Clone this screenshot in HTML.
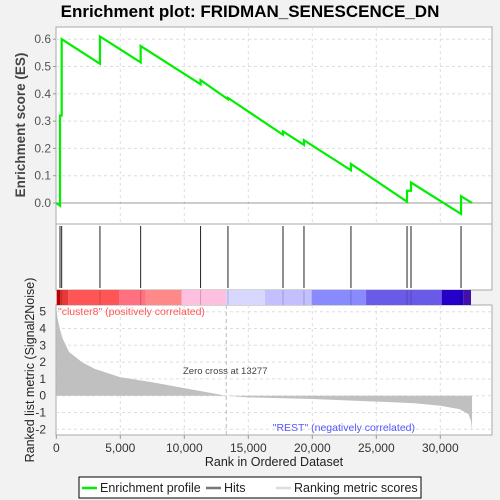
<!DOCTYPE html>
<html><head><meta charset="utf-8"><style>
body{margin:0;background:#f2f2f2;}
svg{display:block;font-family:"Liberation Sans",sans-serif;}
</style></head><body>
<svg id="c" width="500" height="500" xmlns="http://www.w3.org/2000/svg">
<rect width="500" height="500" fill="#f2f2f2"/>
<text x="250" y="17" text-anchor="middle" font-size="17" font-weight="bold">Enrichment plot: FRIDMAN_SENESCENCE_DN</text>
<g id="g"></g>
</svg>
<script>
const hitRanks=[290,420,3410,6590,11270,13410,17710,19350,23020,27400,27710,31620];
const esBefore=[-0.01,0.32,0.51,0.515,0.435,0.38,0.25,0.213,0.12,0.005,0.045,-0.04];
const esAfter=[0.32,0.60,0.61,0.575,0.45,0.385,0.262,0.23,0.143,0.045,0.075,0.025];
const esEnd=[32480,0.0];
const esTicks=[0,0.1,0.2,0.3,0.4,0.5,0.6];
const metricRanks=[0,100,300,500,1000,1500,2000,3000,4000,5000,7500,10000,13277,15000,20000,25000,28000,30000,31500,32200,32400,32480];
const metricVals=[5.2,4.6,3.9,3.4,2.6,2.3,2.0,1.6,1.35,1.1,0.8,0.45,0,-0.1,-0.2,-0.35,-0.45,-0.6,-0.8,-1.1,-1.5,-2.1];
const metricTicks=[-2,-1,0,1,2,3,4,5];
const xTicks=[0,5000,10000,15000,20000,25000,30000];
const barStops=[30,290,940,4900,6990,9800,13260,16300,19950,24200,30110,31800,32400];
const barColors=["#c00000","#e83838","#ff5555","#ff7080","#ff8888","#ffc0e0","#d8d8ff","#c4c0ff","#8a8aff","#6a5ae8","#2400c8","#4010a8"];

const NS="http://www.w3.org/2000/svg";
const g=document.getElementById('g');
const X=r=>56.3+r*0.0128;
const L=56,R=492;
const YE=v=>203-v*273;
const YM=v=>395.7-v*16.8;
function el(t,a,p){const e=document.createElementNS(NS,t);for(const k in a)e.setAttribute(k,a[k]);(p||g).appendChild(e);return e;}
function txt(x,y,s,a){const e=el('text',Object.assign({x:x,y:y},a));e.textContent=s;return e;}

let p1=el('rect',{x:L,y:27,width:R-L,height:197,fill:'#fff',stroke:'#aaa'});

let p2=el('rect',{x:L,y:224,width:R-L,height:66,fill:'#fff',stroke:'#aaa'});

let p3=el('rect',{x:L,y:305,width:R-L,height:130,fill:'#fff',stroke:'#aaa'});


xTicks.forEach(t=>{if(t===0)return;
 el('line',{x1:X(t),x2:X(t),y1:27,y2:224,stroke:'#ddd','stroke-dasharray':'3,3'});
 el('line',{x1:X(t),x2:X(t),y1:305,y2:435,stroke:'#ddd','stroke-dasharray':'3,3'});});
esTicks.forEach(t=>{
 el('line',{x1:L,x2:R,y1:YE(t),y2:YE(t),stroke:t===0?'#999':'#ddd','stroke-dasharray':t===0?'':'3,3'});
 let tl=txt(L-5,YE(t)+4,t.toFixed(1),{'text-anchor':'end','font-size':'12',fill:'#555'});
 
 el('line',{x1:L-3,x2:L,y1:YE(t),y2:YE(t),stroke:'#999'});
});
metricTicks.forEach(t=>{
 el('line',{x1:L,x2:R,y1:YM(t),y2:YM(t),stroke:'#ddd','stroke-dasharray':'3,3'});
 let tl=txt(L-10,YM(t)+4,String(t),{'text-anchor':'end','font-size':'12',fill:'#333'});
 
});
xTicks.forEach(t=>{
 let tl=txt(X(t),452,t.toLocaleString('en-US'),{'text-anchor':'middle','font-size':'12',fill:'#333'});
 
 el('line',{x1:X(t),x2:X(t),y1:435,y2:439,stroke:'#999'});
});
el('line',{x1:X(13277),x2:X(13277),y1:305,y2:435,stroke:'#bbb','stroke-dasharray':'4,3'});
let zc=txt(X(13277)-1,374,'Zero cross at 13277',{'text-anchor':'middle','font-size':'9.5',fill:'#444'});


let d='M'+X(0)+','+YM(0);
metricRanks.forEach((r,i)=>{d+=' L'+X(r)+','+YM(metricVals[i]);});
d+=' L'+X(metricRanks[metricRanks.length-1])+','+YM(0)+' Z';
let ma=el('path',{d:d,fill:'#c0c0c0',stroke:'none'});


barColors.forEach((c,i)=>{
 let b=el('rect',{x:X(barStops[i]),y:290,width:X(barStops[i+1])-X(barStops[i]),height:15,fill:c});
 
});
hitRanks.forEach(r=>{
 let h=el('line',{x1:X(r),x2:X(r),y1:226,y2:288,stroke:'#222','stroke-width':1});
 
 el('line',{x1:X(r),x2:X(r),y1:290,y2:305,stroke:'rgba(0,0,0,0.2)','stroke-width':1});
});
let pd='M'+X(0)+','+YE(0);
hitRanks.forEach((r,i)=>{pd+=' L'+X(r)+','+YE(esBefore[i])+' L'+X(r)+','+YE(esAfter[i]);});
pd+=' L'+X(esEnd[0])+','+YE(esEnd[1]);
let es=el('path',{d:pd,fill:'none',stroke:'#00ee00','stroke-width':2.2});


let c1=txt(58,315,'"cluster8" (positively correlated)',{'font-size':'10.5',fill:'#ff5555'});

let c2=txt(415,431,'"REST" (negatively correlated)',{'text-anchor':'end','font-size':'10.5',fill:'#5555ff'});

let yt=txt(0,0,'Enrichment score (ES)',{'font-size':'13.5','font-weight':'bold',fill:'#444','text-anchor':'middle',transform:'translate(25,125) rotate(-90)'});

let yt2=txt(0,0,'Ranked list metric (Signal2Noise)',{'font-size':'12.5',fill:'#222','text-anchor':'middle',transform:'translate(34,370) rotate(-90)'});

let xt=txt(274,466,'Rank in Ordered Dataset',{'font-size':'12.5',fill:'#222','text-anchor':'middle'});


let lg=el('g',{});

el('rect',{x:79,y:477,width:342,height:21,fill:'#fff',stroke:'#000'},lg);
el('line',{x1:82,x2:97,y1:488,y2:488,stroke:'#00ee00','stroke-width':2.5},lg);
let l1=txt(100,492,'Enrichment profile',{'font-size':'12.5',fill:'#222'});lg.appendChild(l1);

el('line',{x1:206,x2:221,y1:488,y2:488,stroke:'#777','stroke-width':2.5},lg);
let l2=txt(224,492,'Hits',{'font-size':'12.5',fill:'#222'});lg.appendChild(l2);

el('line',{x1:276,x2:291,y1:488,y2:488,stroke:'#ddd','stroke-width':2.5},lg);
let l3=txt(294,492,'Ranking metric scores',{'font-size':'12.5',fill:'#222'});lg.appendChild(l3);

</script>
</body></html>
